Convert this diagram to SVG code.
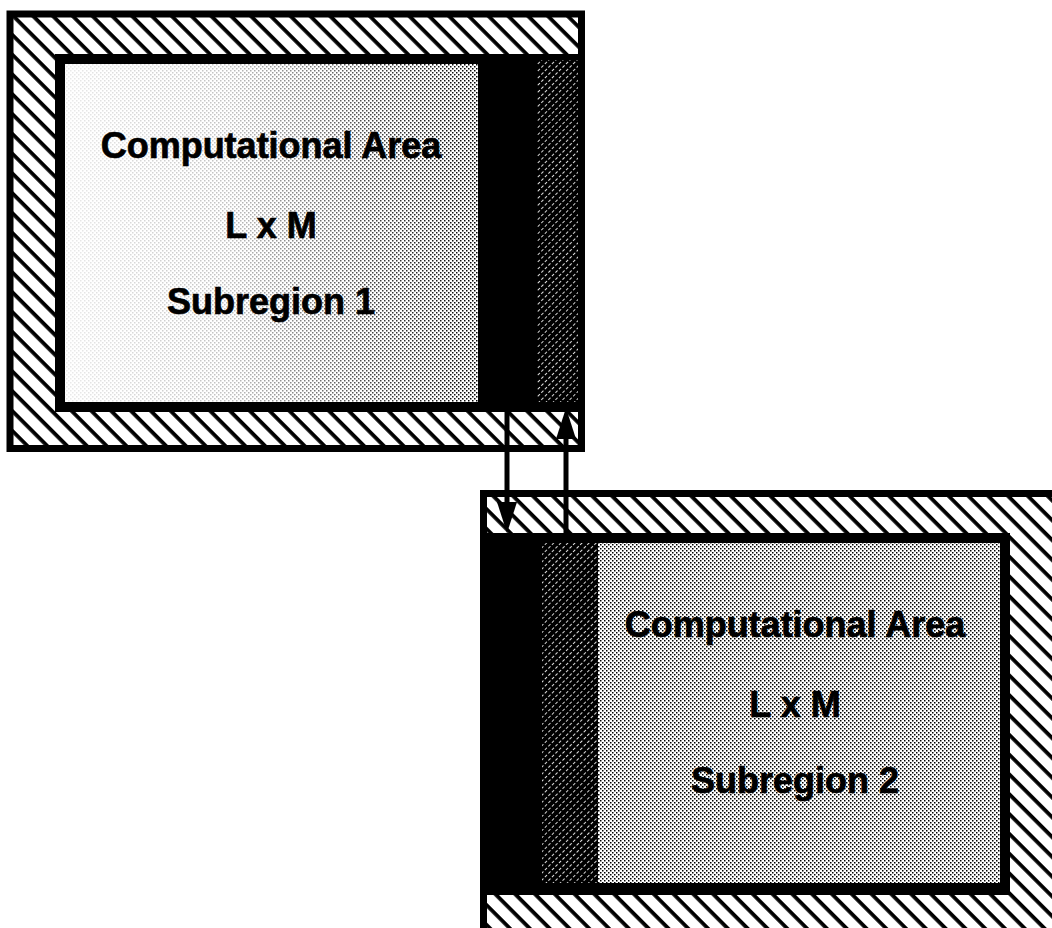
<svg xmlns="http://www.w3.org/2000/svg" width="1052" height="928" viewBox="0 0 1052 928">
  <style>
    .lbl { font-family: "Liberation Sans", Arial, sans-serif; font-weight: bold; font-size: 36px; text-anchor: middle; fill: #000; stroke: #000; stroke-width: 0.7px; }
    .border { fill: url(#hatch); stroke: #000; stroke-width: 7; }
    .frame { fill: #000; }
    .ghost { fill: url(#fine); }
    .conn { stroke: #000; stroke-width: 5; fill: none; }
  </style>
  <defs>
    <pattern id="hatch" patternUnits="userSpaceOnUse" width="14" height="14" patternTransform="rotate(45)">
      <rect width="14" height="14" fill="#fff"/>
      <rect width="14" height="3.8" fill="#000"/>
    </pattern>
    <pattern id="fine" patternUnits="userSpaceOnUse" width="5" height="5" patternTransform="rotate(-45)">
      <rect width="5" height="5" fill="#000"/>
      <rect width="3" height="1" fill="#fff" opacity="0.85"/>
    </pattern>
    <pattern id="dots" patternUnits="userSpaceOnUse" width="4" height="4">
      <rect width="4" height="4" fill="#fff"/>
      <rect x="0" y="0" width="1.5" height="1.5" fill="#000"/>
      <rect x="2" y="2" width="1.5" height="1.5" fill="#000"/>
    </pattern>
    <pattern id="dotsOnly" patternUnits="userSpaceOnUse" width="4" height="4">
      <rect x="0" y="0" width="1.5" height="1.5" fill="#000"/>
      <rect x="2" y="2" width="1.5" height="1.5" fill="#000"/>
    </pattern>
    <linearGradient id="fade" x1="0" y1="0" x2="1" y2="0">
      <stop offset="0" stop-color="#fff" stop-opacity="0.08"/>
      <stop offset="0.4" stop-color="#fff" stop-opacity="0.25"/>
      <stop offset="0.75" stop-color="#fff" stop-opacity="0.75"/>
      <stop offset="1" stop-color="#fff" stop-opacity="1"/>
    </linearGradient>
    <mask id="fadeMask" maskUnits="userSpaceOnUse" x="65" y="64" width="413" height="338">
      <rect x="65" y="64" width="413" height="338" fill="url(#fade)"/>
    </mask>
    <marker id="head" viewBox="0 0 31 20" refX="18" refY="10" markerWidth="31" markerHeight="20" markerUnits="userSpaceOnUse" orient="auto">
      <path d="M0,0 L31,10 L0,20 Z" fill="#000"/>
    </marker>
  </defs>

  <rect width="1052" height="928" fill="#fff"/>

  <g id="subregion1">
    <rect class="border" x="10" y="14" width="571.5" height="434.5"/>
    <rect class="frame" x="55" y="54" width="530" height="358"/>
    <rect x="65" y="64" width="413" height="338" fill="#fff"/>
    <rect x="65" y="64" width="413" height="338" fill="url(#dotsOnly)" mask="url(#fadeMask)"/>
    <rect class="ghost" x="537" y="60" width="41" height="342"/>
    <text class="lbl" x="271" y="158">Computational Area</text>
    <text class="lbl" x="271" y="238">L x M</text>
    <text class="lbl" x="271" y="314">Subregion 1</text>
  </g>

  <g id="subregion2">
    <rect class="border" x="483.5" y="493.5" width="600" height="500"/>
    <rect class="frame" x="480" y="533" width="530" height="362"/>
    <rect x="598" y="543" width="402" height="340" fill="url(#dots)"/>
    <rect class="ghost" x="542" y="543" width="56" height="340"/>
    <text class="lbl" x="795" y="637">Computational Area</text>
    <text class="lbl" x="795" y="717">L x M</text>
    <text class="lbl" x="795" y="793">Subregion 2</text>
  </g>

  <g id="connectors">
    <line class="conn" x1="507" y1="410" x2="507" y2="520" marker-end="url(#head)"/>
    <line class="conn" x1="566" y1="535" x2="566" y2="421" marker-end="url(#head)"/>
  </g>
</svg>
